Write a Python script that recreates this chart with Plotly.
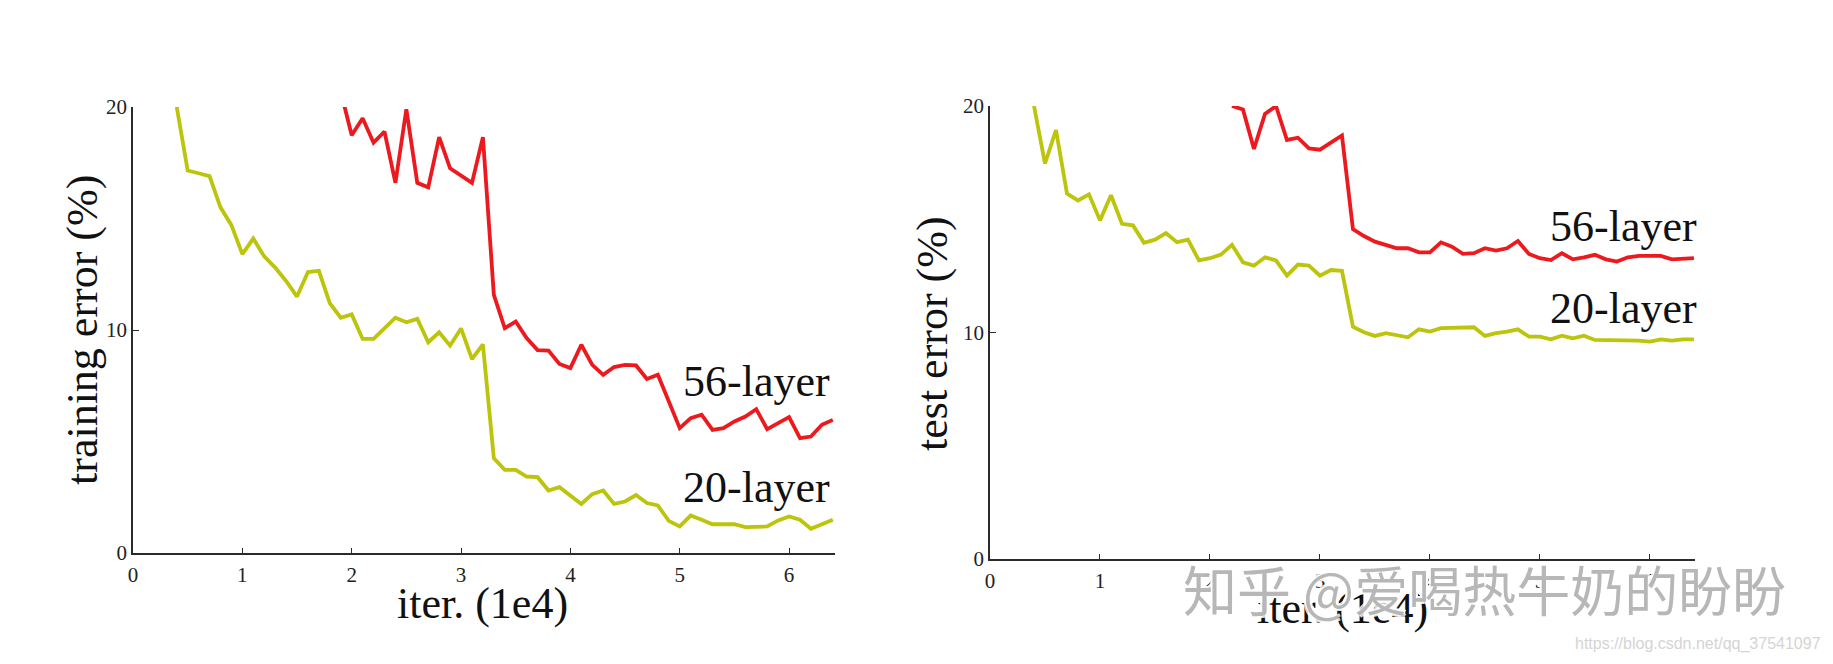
import plotly.graph_objects as go

# ---------------- data ----------------
train_iter_20 = [0.4, 0.5, 0.6, 0.7, 0.8, 0.9, 1.0, 1.1, 1.2, 1.3, 1.4, 1.5, 1.6, 1.7, 1.8, 1.9,
                 2.0, 2.1, 2.2, 2.3, 2.4, 2.5, 2.6, 2.7, 2.8, 2.9, 3.0, 3.1, 3.2, 3.3, 3.4, 3.5,
                 3.6, 3.7, 3.8, 3.9, 4.0, 4.1, 4.2, 4.3, 4.4, 4.5, 4.6, 4.7, 4.8, 4.9, 5.0, 5.1,
                 5.2, 5.3, 5.4, 5.5, 5.6, 5.7, 5.8, 5.9, 6.0, 6.1, 6.2, 6.3, 6.4]
train_err_20 = [20.0, 17.15, 17.03, 16.9, 15.5, 14.7, 13.4, 14.1, 13.3, 12.8, 12.2, 11.5, 12.6, 12.65,
                11.2, 10.55, 10.7, 9.6, 9.6, 10.1, 10.55, 10.35, 10.5, 9.45, 9.9, 9.3, 10.07, 8.7,
                9.35, 4.25, 3.73, 3.73, 3.43, 3.4, 2.8, 2.95, 2.6, 2.2, 2.64, 2.8, 2.2, 2.31, 2.6,
                2.24, 2.13, 1.44, 1.19, 1.68, 1.49, 1.29, 1.29, 1.29, 1.16, 1.16, 1.19, 1.46, 1.64,
                1.49, 1.09, 1.29, 1.49]

train_iter_56 = [1.9, 2.0, 2.1, 2.2, 2.3, 2.4, 2.5, 2.6, 2.7, 2.8, 2.9, 3.0, 3.1, 3.2, 3.3, 3.4,
                 3.5, 3.6, 3.7, 3.8, 3.9, 4.0, 4.1, 4.2, 4.3, 4.4, 4.5, 4.6, 4.7, 4.8, 4.9, 5.0,
                 5.1, 5.2, 5.3, 5.4, 5.5, 5.6, 5.7, 5.8, 5.9, 6.0, 6.1, 6.2, 6.3, 6.4]
train_err_56 = [20.7, 18.73, 19.5, 18.4, 18.9, 16.6, 19.9, 16.6, 16.4, 18.65, 17.25, 16.9, 16.6,
                18.65, 11.58, 10.08, 10.38, 9.64, 9.1, 9.08, 8.48, 8.29, 9.34, 8.44, 7.99, 8.34,
                8.44, 8.41, 7.8, 7.99, 6.8, 5.6, 6.05, 6.2, 5.52, 5.6, 5.9, 6.12, 6.45, 5.55, 5.82,
                6.09, 5.15, 5.22, 5.75, 5.97]

test_iter_20 = [0.4, 0.5, 0.6, 0.7, 0.8, 0.9, 1.0, 1.1, 1.2, 1.3, 1.4, 1.5, 1.6, 1.7, 1.8, 1.9,
                2.0, 2.1, 2.2, 2.3, 2.4, 2.5, 2.6, 2.7, 2.8, 2.9, 3.0, 3.1, 3.2, 3.3, 3.4, 3.5,
                3.6, 3.7, 3.8, 3.9, 4.0, 4.1, 4.2, 4.3, 4.4, 4.5, 4.6, 4.7, 4.8, 4.9, 5.0, 5.1,
                5.2, 5.3, 5.4, 5.5, 5.6, 5.7, 5.8, 5.9, 6.0, 6.1, 6.2, 6.3, 6.4]
test_err_20 = [20.0, 17.46, 18.94, 16.13, 15.83, 16.1, 14.95, 16.06, 14.8, 14.73, 13.96, 14.1,
               14.39, 13.99, 14.1, 13.18, 13.28, 13.44, 13.87, 13.1, 12.95, 13.32, 13.18, 12.51,
               13.0, 12.95, 12.51, 12.76, 12.72, 10.26, 10.01, 9.85, 9.97, 9.86, 9.79, 10.14,
               10.04, 10.19, 10.19, 10.19, 10.23, 9.85, 9.97, 10.04, 10.14, 9.82, 9.82, 9.7, 9.86,
               9.74, 9.86, 9.67, 9.67, 9.67, 9.67, 9.64, 9.6, 9.7, 9.64, 9.7, 9.7]

test_iter_56 = [2.2, 2.3, 2.4, 2.5, 2.6, 2.7, 2.8, 2.9, 3.0, 3.1, 3.2, 3.3, 3.4, 3.5, 3.6, 3.7,
                3.8, 3.9, 4.0, 4.1, 4.2, 4.3, 4.4, 4.5, 4.6, 4.7, 4.8, 4.9, 5.0, 5.1, 5.2, 5.3,
                5.4, 5.5, 5.6, 5.7, 5.8, 5.9, 6.0, 6.1, 6.2, 6.3, 6.4]
test_err_56 = [20.0, 19.85, 18.1, 19.65, 20.0, 18.5, 18.6, 18.13, 18.07, 18.4, 18.7, 14.56, 14.26,
               14.01, 13.86, 13.72, 13.72, 13.54, 13.54, 13.98, 13.79, 13.47, 13.5, 13.72, 13.62,
               13.72, 14.04, 13.47, 13.28, 13.2, 13.5, 13.23, 13.32, 13.43, 13.23, 13.13, 13.32,
               13.38, 13.38, 13.38, 13.23, 13.25, 13.28]

x_ticks = [0, 1, 2, 3, 4, 5, 6]
y_ticks = [0, 10, 20]
series_names = ["56-layer", "20-layer"]
left_ytitle = "training error (%)"
right_ytitle = "test error (%)"
x_title = "iter. (1e4)"
watermark = "知乎 @爱喝热牛奶的盼盼"
csdn_mark = "https://blog.csdn.net/qq_37541097"

# ---------------- styling ----------------
W, H = 1833, 664
RED = "#ec1a1f"
OLIVE = "#bcc40c"
SERIF = "Liberation Serif, Times New Roman, serif"
AXC = "#2b2b2b"
LW = 3.8


def px_x(p):
    return p / W


def px_y(p):
    return (H - p) / H


fig = go.Figure()

fig.add_trace(go.Scatter(x=train_iter_56, y=train_err_56, mode="lines",
                         line=dict(color=RED, width=LW), xaxis="x", yaxis="y",
                         name=series_names[0], showlegend=False))
fig.add_trace(go.Scatter(x=train_iter_20, y=train_err_20, mode="lines",
                         line=dict(color=OLIVE, width=LW), xaxis="x", yaxis="y",
                         name=series_names[1], showlegend=False))
fig.add_trace(go.Scatter(x=test_iter_56, y=test_err_56, mode="lines",
                         line=dict(color=RED, width=LW), xaxis="x2", yaxis="y2",
                         name=series_names[0], showlegend=False))
fig.add_trace(go.Scatter(x=test_iter_20, y=test_err_20, mode="lines",
                         line=dict(color=OLIVE, width=LW), xaxis="x2", yaxis="y2",
                         name=series_names[1], showlegend=False))

axis_common = dict(showgrid=False, zeroline=False, showline=True, linecolor=AXC,
                   linewidth=1.8, ticks="inside", tickcolor=AXC, tickwidth=1.2,
                   automargin=False,
                   tickfont=dict(family=SERIF, size=21, color="#222222"), mirror=False)

fig.update_layout(
    width=W, height=H,
    margin=dict(l=0, r=0, t=0, b=0, pad=0, autoexpand=False),
    paper_bgcolor="white", plot_bgcolor="white",
    xaxis=dict(domain=[px_x(133), px_x(835)], range=[0, 6.42], anchor="y",
               tickvals=x_ticks, ticklen=5, ticklabelstandoff=2, **axis_common),
    yaxis=dict(domain=[px_y(553), px_y(107)], range=[0, 20], anchor="x",
               tickvals=y_ticks, ticklen=6, ticklabelstandoff=0, **axis_common),
    xaxis2=dict(domain=[px_x(990), px_x(1695)], range=[0, 6.41], anchor="y2",
                tickvals=x_ticks, ticklen=5, ticklabelstandoff=2, **axis_common),
    yaxis2=dict(domain=[px_y(559), px_y(106)], range=[0, 20], anchor="x2",
                tickvals=y_ticks, ticklen=6, ticklabelstandoff=0, **axis_common),
)

big = dict(family=SERIF, size=44, color="#111111")
ann = []
# axis titles
ann.append(dict(text=x_title, xref="paper", yref="paper", x=px_x(482), y=px_y(603),
                xanchor="center", yanchor="middle", showarrow=False, font=big))
ann.append(dict(text=x_title, xref="paper", yref="paper", x=px_x(1342), y=px_y(608),
                xanchor="center", yanchor="middle", showarrow=False, font=big))
ann.append(dict(text=left_ytitle, xref="paper", yref="paper", x=px_x(82), y=px_y(330),
                xanchor="center", yanchor="middle", textangle=-90, showarrow=False, font=big))
ann.append(dict(text=right_ytitle, xref="paper", yref="paper", x=px_x(932), y=px_y(333),
                xanchor="center", yanchor="middle", textangle=-90, showarrow=False, font=big))
# series labels (data coordinates)
ann.append(dict(text=series_names[0], xref="x", yref="y", x=6.39, y=7.68,
                xanchor="right", yanchor="middle", showarrow=False, font=big))
ann.append(dict(text=series_names[1], xref="x", yref="y", x=6.39, y=2.93,
                xanchor="right", yanchor="middle", showarrow=False, font=big))
ann.append(dict(text=series_names[0], xref="x2", yref="y2", x=6.4, y=14.66, xshift=5,
                xanchor="right", yanchor="middle", showarrow=False, font=big))
ann.append(dict(text=series_names[1], xref="x2", yref="y2", x=6.4, y=11.08, xshift=5,
                xanchor="right", yanchor="middle", showarrow=False, font=big))
# watermarks
ann.append(dict(text=watermark, xref="paper", yref="paper", x=px_x(1484), y=px_y(588),
                xanchor="center", yanchor="middle", showarrow=False,
                font=dict(family="Noto Sans CJK SC", size=54, color="rgba(165,165,165,0.8)",
                          shadow="-2px -2px 0 #fff, 2px -2px 0 #fff, -2px 2px 0 #fff, 2px 2px 0 #fff")))
ann.append(dict(text=csdn_mark, xref="paper", yref="paper", x=px_x(1823), y=px_y(644),
                xanchor="right", yanchor="middle", showarrow=False,
                font=dict(family="Liberation Sans, Arial, sans-serif", size=16, color="#d4d4d4")))

fig.update_layout(annotations=ann)

fig.write_html("out.html", config={"displayModeBar": False},
               post_script="document.body.style.margin='0';document.body.style.overflow='hidden';")
